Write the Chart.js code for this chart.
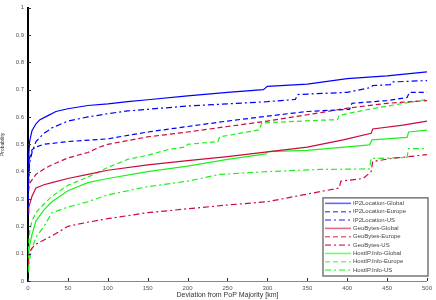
<!DOCTYPE html>
<html><head><meta charset="utf-8">
<script src="https://cdn.jsdelivr.net/npm/chart.js@4.4.0/dist/chart.umd.min.js"></script>
<style>html,body{margin:0;padding:0;background:#fff}#wrap{width:436px;height:300px;position:relative}</style>
</head><body><div id="wrap"><canvas id="c" width="436" height="300"></canvas></div>
<script>
// ---- data (km, probability) ----
const seriesLabels = ["IP2Location-Global","IP2Location-Europe","IP2Location-US","GeoBytes-Global","GeoBytes-Europe","GeoBytes-US","HostIP.Info-Global","HostIP.Info-Europe","HostIP.Info-US"];
const xTicks = [0,50,100,150,200,250,300,350,400,450,500];
const yTicks = [0,0.1,0.2,0.3,0.4,0.5,0.6,0.7,0.8,0.9,1];

const ip2lGlobal = [[0,0.38],[1,0.46],[2,0.51],[5,0.55],[10,0.575],[15,0.59],[25,0.605],[35,0.62],[50,0.63],[75,0.642],[100,0.648],[125,0.656],[150,0.663],[200,0.677],[250,0.69],[295,0.70],[300,0.712],[350,0.72],[400,0.74],[450,0.75],[500,0.765]];
const ip2lEurope = [[0,0.24],[1,0.40],[2,0.45],[5,0.48],[10,0.49],[20,0.50],[50,0.51],[100,0.52],[150,0.545],[200,0.565],[250,0.585],[300,0.603],[350,0.62],[403,0.628],[406,0.65],[450,0.66],[475,0.671],[478,0.69],[500,0.69]];
const ip2lUS = [[0,0.30],[1,0.38],[2,0.43],[5,0.47],[10,0.51],[20,0.54],[30,0.56],[50,0.585],[75,0.60],[100,0.612],[125,0.622],[150,0.628],[200,0.64],[250,0.648],[300,0.656],[335,0.664],[338,0.682],[400,0.69],[430,0.708],[432,0.715],[454,0.718],[456,0.728],[500,0.733]];
const geoGlobal = [[0,0.25],[1,0.27],[2,0.28],[5,0.31],[10,0.34],[20,0.352],[30,0.36],[50,0.375],[75,0.39],[100,0.405],[150,0.425],[200,0.44],[250,0.455],[300,0.472],[350,0.49],[395,0.516],[430,0.54],[432,0.556],[470,0.57],[500,0.585]];
const geoEurope = [[0,0.30],[1,0.34],[2,0.357],[5,0.37],[10,0.39],[20,0.41],[30,0.425],[50,0.45],[75,0.47],[90,0.49],[100,0.50],[150,0.527],[200,0.545],[250,0.565],[300,0.585],[350,0.608],[400,0.632],[450,0.65],[500,0.66]];
const geoUS = [[0,0.06],[1,0.09],[2,0.105],[5,0.12],[10,0.135],[20,0.15],[30,0.165],[50,0.20],[75,0.215],[100,0.228],[150,0.25],[200,0.264],[250,0.278],[300,0.29],[350,0.318],[390,0.34],[392,0.365],[420,0.375],[430,0.40],[432,0.437],[455,0.448],[500,0.462]];
const hostGlobal = [[0,0.04],[1,0.10],[2,0.13],[5,0.17],[10,0.22],[20,0.26],[30,0.29],[50,0.33],[75,0.36],[100,0.375],[150,0.40],[200,0.42],[250,0.445],[298,0.465],[300,0.473],[350,0.478],[428,0.498],[431,0.516],[475,0.525],[477,0.545],[500,0.552]];
const hostEurope = [[0,0.08],[1,0.14],[2,0.18],[5,0.22],[10,0.25],[15,0.267],[30,0.31],[50,0.35],[75,0.38],[100,0.415],[125,0.445],[150,0.46],[175,0.48],[197,0.49],[200,0.50],[238,0.51],[240,0.527],[290,0.553],[293,0.578],[365,0.588],[388,0.59],[390,0.606],[427,0.628],[477,0.653],[500,0.664]];
const hostUS = [[0,0.03],[1,0.06],[2,0.08],[5,0.12],[10,0.16],[20,0.20],[30,0.25],[50,0.27],[75,0.29],[100,0.315],[150,0.345],[200,0.365],[240,0.39],[300,0.40],[365,0.408],[428,0.41],[430,0.448],[475,0.452],[477,0.484],[500,0.484]];

const seriesData = [ip2lGlobal, ip2lEurope, ip2lUS, geoGlobal, geoEurope, geoUS, hostGlobal, hostEurope, hostUS];

// ---- styles ----
const BLUE = '#0000ff', RED = '#cc0a3c', GREEN = '#1ef01e';
const colors = [BLUE,BLUE,BLUE,RED,RED,RED,GREEN,GREEN,GREEN];
const SOLID = [], DASH = [5,3], DASHDOT = [6,3,2,3];
const dashes = [SOLID,DASH,DASHDOT,SOLID,DASH,DASHDOT,SOLID,DASH,DASHDOT];

const datasets = seriesData.map((pts, i) => ({
  label: seriesLabels[i],
  data: pts.map(p => ({x: p[0], y: p[1]})),
  borderColor: colors[i],
  borderDash: dashes[i],
  borderWidth: 1.2,
  pointRadius: 0,
  tension: 0,
  fill: false
}));

const FONT = '"Liberation Sans", Arial, sans-serif';

const inwardTicks = {
  id: 'inwardTicks',
  afterDraw(chart) {
    const ctx = chart.ctx, ca = chart.chartArea;
    const xs = chart.scales.x, ys = chart.scales.y;
    ctx.save();
    ctx.strokeStyle = '#333';
    ctx.lineWidth = 1;
    ctx.beginPath();
    ys.ticks.forEach(t => {
      const y = Math.round(ys.getPixelForValue(t.value)) + 0.5;
      ctx.moveTo(ca.left, y); ctx.lineTo(ca.left + 3, y);
    });
    xs.ticks.forEach(t => {
      const x = Math.round(xs.getPixelForValue(t.value)) + 0.5;
      ctx.moveTo(x, ca.bottom); ctx.lineTo(x, ca.bottom - 3);
    });
    ctx.stroke();
    ctx.restore();
  }
};

const boxLegend = {
  id: 'boxLegend',
  afterDraw(chart) {
    const ctx = chart.ctx, ca = chart.chartArea;
    const w = 105, rowH = 8.35, n = chart.data.datasets.length;
    const h = n * rowH + 3;
    const right = ca.right + 1, bottom = ca.bottom - 5;
    const left = right - w, top = bottom - h;
    ctx.save();
    ctx.fillStyle = '#fff';
    ctx.fillRect(left, top, w, h);
    ctx.strokeStyle = '#777';
    ctx.lineWidth = 1.5;
    ctx.strokeRect(left, top, w, h);
    ctx.font = '6px ' + FONT;
    ctx.textBaseline = 'middle';
    chart.data.datasets.forEach((ds, i) => {
      const y = top + 5.5 + i * rowH;
      ctx.strokeStyle = ds.borderColor;
      ctx.globalAlpha = 0.6;
      ctx.lineWidth = 1.6;
      ctx.setLineDash(ds.borderDash);
      ctx.beginPath();
      ctx.moveTo(left + 2, y); ctx.lineTo(left + 28, y);
      ctx.stroke();
      ctx.globalAlpha = 1;
      ctx.setLineDash([]);
      ctx.fillStyle = '#444';
      ctx.fillText(ds.label, left + 30, y);
    });
    ctx.restore();
  }
};

new Chart(document.getElementById('c'), {
  type: 'line',
  data: { datasets },
  options: {
    responsive: false,
    animation: false,
    devicePixelRatio: 1,
    layout: { padding: { top: 4, right: 7, left: 0, bottom: 0 } },
    plugins: { legend: { display: false }, tooltip: { enabled: false } },
    scales: {
      x: {
        type: 'linear', min: 0, max: 500,
        afterBuildTicks: s => { s.ticks = xTicks.map(v => ({value: v})); },
        ticks: { font: { size: 6, family: FONT }, color: '#555', padding: 4, maxRotation: 0 },
        grid: { drawOnChartArea: false, drawTicks: false },
        border: { color: '#888', width: 1 },
        title: { display: true, text: 'Deviation from PoP Majority [km]', font: { size: 7, family: FONT }, color: '#333', padding: { top: 0, bottom: 1 } },
        afterFit: s => { s.height = 19; }
      },
      y: {
        type: 'linear', min: 0, max: 1,
        afterBuildTicks: s => { s.ticks = yTicks.map(v => ({value: v})); },
        ticks: { font: { size: 6, family: FONT }, color: '#555', padding: 4,
          callback: v => (v === 0 || v === 1) ? String(v) : v.toFixed(1) },
        grid: { drawOnChartArea: false, drawTicks: false },
        border: { color: '#000', width: 2 },
        title: { display: true, text: 'Probability', font: { size: 5, family: FONT }, color: '#333', padding: { top: 0, bottom: 0 } },
        afterFit: s => { s.width = 28; }
      }
    }
  },
  plugins: [inwardTicks, boxLegend]
});
</script>
</body></html>
